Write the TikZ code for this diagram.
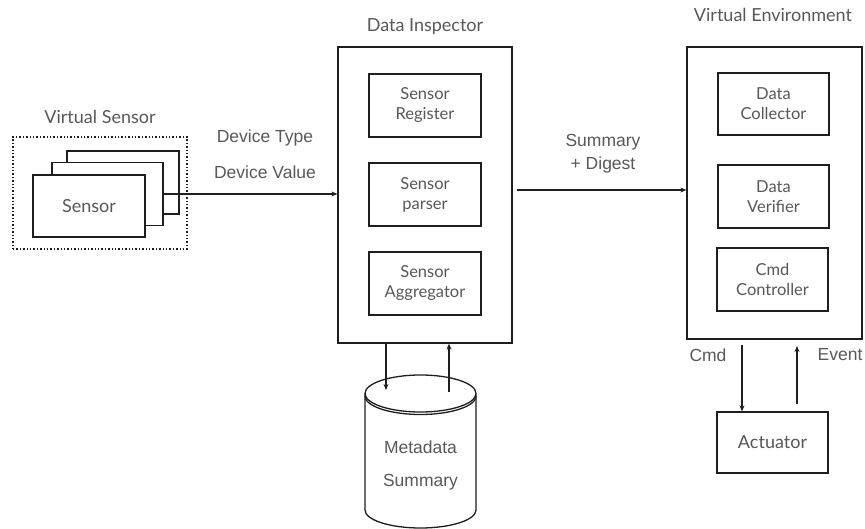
\documentclass[tikz,border=0pt]{standalone}
\usepackage{fontspec}
\newfontfamily\gillfont{Lato}
\newfontfamily\helvfont{Liberation Sans}
\usetikzlibrary{arrows.meta}
\definecolor{labelgray}{RGB}{88,88,88}
\definecolor{linegray}{RGB}{30,30,30}

\begin{document}
\begin{tikzpicture}[x=1pt, y=-1pt,
    box/.style={draw=linegray, line width=1.3pt, fill=white, text=labelgray,
      font=\gillfont\fontsize{16.5}{20}\selectfont, align=center, inner sep=0pt},
    gilltext/.style={text=labelgray, font=\gillfont\fontsize{18}{21}\selectfont},
    helvtext/.style={text=labelgray, font=\helvfont\fontsize{17.5}{23}\selectfont, align=center},
    arr/.style={-{Stealth[length=6pt,width=5pt]}, line width=1.2pt, draw=linegray}]

    \useasboundingbox (0,0) rectangle (865,529);

    % virtual sensor group
    \node[gilltext] (vslabel) at (100,117) {Virtual Sensor};
    \node[draw=linegray, dotted, line width=1.4pt, minimum width=174pt, minimum height=112pt] (virtsensor) at (100,193) {};
    \node[box, minimum width=112pt, minimum height=63pt] (sensorc) at (123,182.5) {};
    \node[box, minimum width=111pt, minimum height=63pt] (sensorb) at (107.5,194) {};
    \node[box, minimum width=112pt, minimum height=62pt, font=\gillfont\fontsize{18}{21}\selectfont] (sensora) at (89,206) {Sensor};

    % data inspector
    \node[gilltext] (dilabel) at (425,27) {Data Inspector};
    \node[box, minimum width=174pt, minimum height=296pt] (inspector) at (425,195) {};
    \node[box, minimum width=112pt, minimum height=63pt] (register) at (425,105.5) {Sensor\\Register};
    \node[box, minimum width=112pt, minimum height=63pt] (parser) at (425,194.5) {Sensor\\parser};
    \node[box, minimum width=112pt, minimum height=63pt] (aggregator) at (425,283.5) {Sensor\\Aggregator};

    % virtual environment
    \node[gilltext] (velabel) at (773,15) {Virtual Environment};
    \node[box, minimum width=175pt, minimum height=292pt] (venv) at (774.5,193) {};
    \node[box, minimum width=111pt, minimum height=62pt] (collector) at (773.5,104) {Data\\Collector};
    \node[box, minimum width=111pt, minimum height=63pt] (verifier) at (773.5,196.5) {Data\\Verifier};
    \node[box, minimum width=111pt, minimum height=63pt] (controller) at (772.5,279.5) {Cmd\\Controller};
    \node[box, minimum width=111pt, minimum height=61pt, font=\gillfont\fontsize{18}{21}\selectfont] (actuator) at (772.5,442.5) {Actuator};

    % metadata store (cylinder)
    \coordinate (dbtop) at (420.5,393.5);
    \draw[linegray, line width=1.3pt] (dbtop) ellipse [x radius=55.5, y radius=18.5];
    \draw[linegray, line width=1.3pt] (365,396) arc[start angle=180, end angle=0, x radius=55.5, y radius=18.5];
    \draw[linegray, line width=1.3pt] (365,393.5) -- (365,510)
          arc[start angle=180, end angle=0, x radius=55.5, y radius=18] -- (476,393.5);
    \node[helvtext] (metadata) at (420.5,447) {Metadata};
    \node[helvtext] (summary) at (420.5,482) {Summary};

    % connector labels
    \node[helvtext] (devtype) at (265,138) {Device Type};
    \node[helvtext] (devvalue) at (265,172) {Device Value};
    \node[helvtext] (digest) at (603,154) {Summary\\+ Digest};
    \node[helvtext] (cmdlabel) at (708,355) {Cmd};
    \node[helvtext] (eventlabel) at (840,355) {Event};

    % connectors
    \draw[arr] (sensorb.east) -- (sensorb.east -| inspector.west);
    \coordinate (digestout) at (517,190);
    \draw[arr] (digestout) -- (digestout -| venv.west);
    \coordinate (dbin) at (386,390);
    \coordinate (dbout) at (449,392);
    \draw[arr] (inspector.south -| dbin) -- (dbin);
    \draw[arr] (dbout) -- (dbout |- inspector.south);
    \coordinate (cmdtop) at (742,345);
    \coordinate (eventtop) at (797,346);
    \draw[arr] (cmdtop) -- (cmdtop |- actuator.north);
    \draw[arr] ([yshift=7pt]eventtop |- actuator.north) -- (eventtop);

\end{tikzpicture}
\end{document}
